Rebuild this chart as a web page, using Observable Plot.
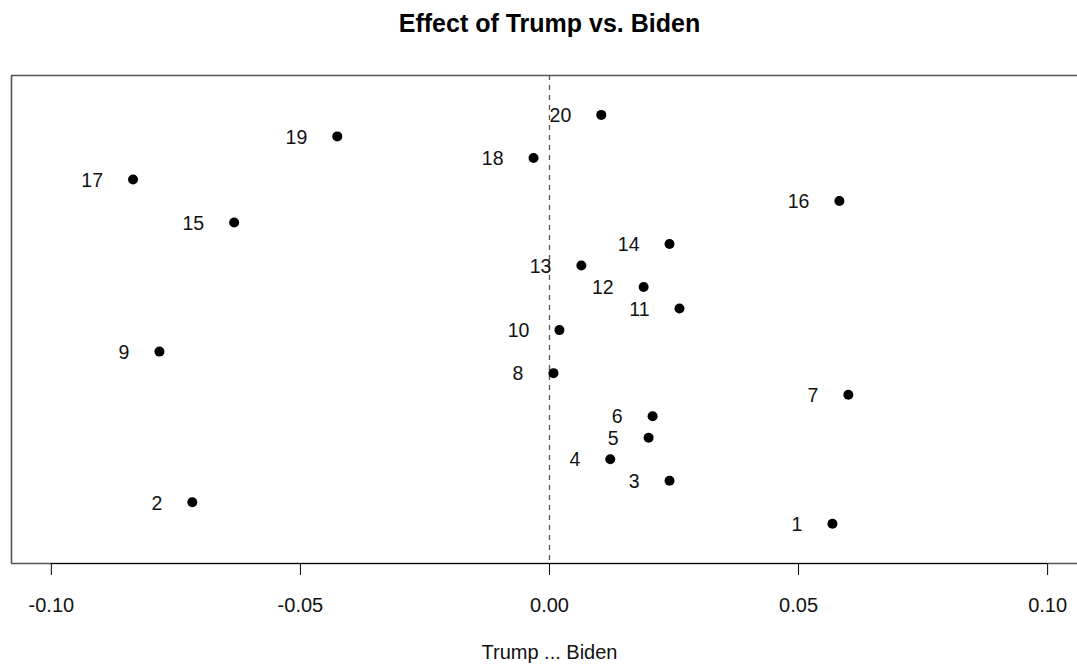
<!DOCTYPE html>
<html>
<head>
<meta charset="utf-8">
<script src="https://cdn.jsdelivr.net/npm/d3@7"></script>
<script src="https://cdn.jsdelivr.net/npm/@observablehq/plot@0.6"></script>
<style>
  html, body { margin: 0; padding: 0; background: #fff; }
  #title {
    width: 1077px; height: 60px; box-sizing: border-box;
    padding-top: 11px; padding-left: 22px;
    font-family: "Liberation Sans", Arial, Helvetica, sans-serif;
    font-weight: bold; font-size: 25px; line-height: 25px;
    text-align: center; color: #000;
  }
</style>
</head>
<body>
<div id="title">Effect of Trump vs. Biden</div>
<div id="chart"></div>
<script>
const titleText = "Effect of Trump vs. Biden";
const xLabel = "Trump ... Biden";
const labels = ["1","2","3","4","5","6","7","8","9","10","11","12","13","14","15","16","17","18","19","20"];
const positions = [1,2,3,4,5,6,7,8,9,10,11,12,13,14,15,16,17,18,19,20];
const effects = [0.0568, -0.0717, 0.0241, 0.0122, 0.0199, 0.0207, 0.0600, 0.0008, -0.0783, 0.0020,
                 0.0261, 0.0189, 0.0064, 0.0241, -0.0633, 0.0582, -0.0836, -0.0032, -0.0426, 0.0104];
const xTicks = [-0.10, -0.05, 0.00, 0.05, 0.10];
const xDomain = [-0.1080, 0.1060];
const yDomain = [-0.845, 21.83];

const data = labels.map((l, i) => ({label: l, pos: positions[i], effect: effects[i]}));
document.getElementById("title").textContent = titleText;

const font = "'Liberation Sans', Arial, Helvetica, sans-serif";
const chart = Plot.plot({
  width: 1077,
  height: 604,
  marginLeft: 11,
  marginRight: 0,
  marginTop: 15,
  marginBottom: 101,
  style: {fontFamily: font, background: "#fff", color: "#000"},
  x: {domain: xDomain, axis: null},
  y: {domain: yDomain, axis: null},
  marks: [
    // plot box (right side lies beyond the image)
    Plot.ruleY([yDomain[1]], {stroke: "#555", strokeWidth: 1.6}),
    Plot.ruleY([yDomain[0]], {stroke: "#555", strokeWidth: 1.6}),
    Plot.ruleX([xDomain[0]], {stroke: "#555", strokeWidth: 1.6}),
    // axis line
    Plot.ruleY([yDomain[0]], {x1: xTicks[0], x2: xTicks[xTicks.length - 1], stroke: "#000", strokeWidth: 1.2}),
    // zero reference line
    Plot.ruleX([0], {stroke: "#555", strokeWidth: 1.3, strokeDasharray: "5,5"}),
    Plot.axisX({
      ticks: xTicks,
      tickFormat: d => d.toFixed(2),
      tickSize: 12,
      tickPadding: 22,
      fontSize: 20,
      stroke: "#000",
      fill: "#111",
      label: null
    }),
    Plot.text([{x: 0, t: xLabel}], {x: "x", text: "t", frameAnchor: "bottom", dy: 95, fontSize: 20, fill: "#111"}),
    Plot.dot(data, {x: "effect", y: "pos", r: 5, fill: "#000", stroke: null}),
    Plot.text(data, {x: "effect", y: "pos", text: "label", textAnchor: "end", dx: -30, dy: 1, fontSize: 19.5, fill: "#111"})
  ]
});
document.getElementById("chart").appendChild(chart);
</script>
</body>
</html>
